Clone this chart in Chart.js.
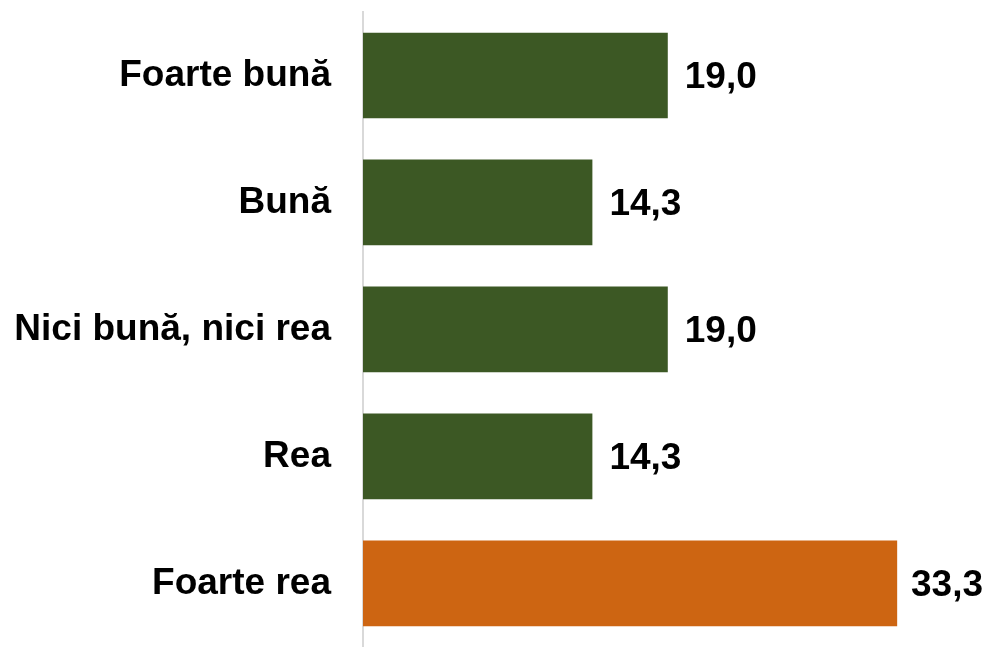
<!DOCTYPE html>
<html>
<head>
<meta charset="utf-8">
<script src="https://cdn.jsdelivr.net/npm/chart.js@4"></script>
<style>
  html, body { margin: 0; padding: 0; background: #ffffff; }
  #wrap { width: 987px; height: 647px; position: relative; }
</style>
</head>
<body>
<div id="wrap"><canvas id="ratingChart"></canvas></div>
<script>
// Data
const categories = ['Foarte bună', 'Bună', 'Nici bună, nici rea', 'Rea', 'Foarte rea'];
const percentValues = [19.0, 14.3, 19.0, 14.3, 33.3];
const barColors = ['#3c5824', '#3c5824', '#3c5824', '#3c5824', '#cd6512'];

// Draws the value next to each bar end, with a decimal comma
const valueLabels = {
    id: 'valueLabels',
    afterDatasetsDraw(chart) {
        const ctx = chart.ctx;
        const meta = chart.getDatasetMeta(0);
        ctx.save();
        ctx.font = 'bold 37px "Liberation Sans", Arial, sans-serif';
        ctx.fillStyle = '#000000';
        ctx.textAlign = 'left';
        ctx.textBaseline = 'middle';
        meta.data.forEach((bar, i) => {
            const text = percentValues[i].toFixed(1).replace('.', ',');
            const w = ctx.measureText(text).width;
            // keep the label inside the canvas when the bar is long
            const x = Math.min(bar.x + 17, chart.width - w - 4);
            ctx.fillText(text, x, bar.y + 2);
        });
        ctx.restore();
    }
};

const ctx = document.getElementById('ratingChart').getContext('2d');
new Chart(ctx, {
    type: 'bar',
    data: {
        labels: categories,
        datasets: [{
            data: percentValues,
            backgroundColor: barColors,
            borderWidth: 0,
            barPercentage: 0.675,
            categoryPercentage: 1
        }]
    },
    options: {
        indexAxis: 'y',
        responsive: true,
        maintainAspectRatio: false,
        animation: false,
        layout: {
            padding: { top: 12, right: 0, bottom: -3, left: 0 }
        },
        plugins: {
            legend: { display: false },
            tooltip: { enabled: false }
        },
        scales: {
            x: {
                display: false,
                min: 0,
                max: 38.9
            },
            y: {
                afterFit(scale) {
                    scale.width = 363;
                },
                grid: {
                    display: true,
                    drawOnChartArea: false,
                    drawTicks: true,
                    tickLength: 32,
                    tickColor: 'rgba(0,0,0,0)'
                },
                border: { display: true, color: '#d9d9d9', width: 2 },
                ticks: {
                    padding: 0,
                    color: '#000000',
                    font: { family: '"Liberation Sans", Arial, sans-serif', size: 37, weight: 'bold', lineHeight: 0.01 }
                }
            }
        }
    },
    plugins: [valueLabels]
});
</script>
</body>
</html>
